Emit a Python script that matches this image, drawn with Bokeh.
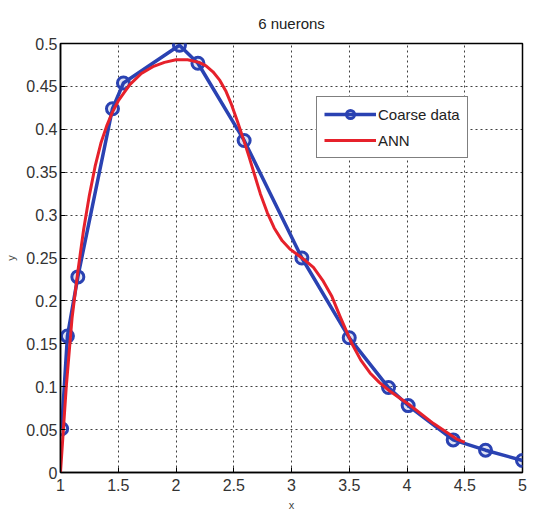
from bokeh.plotting import figure
from bokeh.models import FixedTicker, CustomJSTickFormatter, Legend, LegendItem
from bokeh.embed import file_html
from bokeh.resources import INLINE

# Coarse data (blue, circles)
coarse_x = [1.01, 1.06, 1.15, 1.45, 1.545, 2.03, 2.19, 2.59, 3.09, 3.50, 3.84, 4.01, 4.40, 4.68, 5.0]
coarse_y = [0.051, 0.159, 0.228, 0.424, 0.454, 0.498, 0.477, 0.387, 0.250, 0.157, 0.099, 0.078, 0.038, 0.026, 0.014]

# ANN output (red)
ann_x = [1.0, 1.05, 1.10, 1.15, 1.20, 1.25, 1.30, 1.35, 1.40, 1.45, 1.50, 1.60, 1.70, 1.80, 1.90,
         2.00, 2.10, 2.20, 2.26, 2.32, 2.38, 2.43, 2.48, 2.53, 2.58, 2.63, 2.68, 2.73, 2.79, 2.85,
         2.92, 2.99, 3.05, 3.11, 3.19, 3.27, 3.35, 3.42, 3.52, 3.60, 3.68, 3.76, 3.85, 4.02, 4.23,
         4.43, 4.5]
ann_y = [0.0, 0.100, 0.180, 0.234, 0.283, 0.323, 0.357, 0.384, 0.404, 0.420, 0.433, 0.452, 0.465, 0.473, 0.478,
         0.481, 0.481, 0.478, 0.474, 0.467, 0.457, 0.445, 0.429, 0.410, 0.390, 0.369, 0.347, 0.325, 0.303, 0.285,
         0.270, 0.260, 0.254, 0.248, 0.239, 0.224, 0.205, 0.182, 0.151, 0.131, 0.116, 0.105, 0.095, 0.079, 0.057,
         0.039, 0.035]

x_ticks = [1, 1.5, 2, 2.5, 3, 3.5, 4, 4.5, 5]
y_ticks = [0, 0.05, 0.1, 0.15, 0.2, 0.25, 0.3, 0.35, 0.4, 0.45, 0.5]

title_text = "6 nuerons"
x_label = "x"
y_label = "y"
series_names = ["Coarse data", "ANN"]

BLUE = "#2a42b2"
RED = "#e6212b"
FONT = "Liberation Sans"

p = figure(width=533, height=513, x_range=(1, 5), y_range=(0, 0.5),
           output_backend="svg", toolbar_location=None,
           min_border_left=60, min_border_right=11, min_border_top=0, min_border_bottom=10)

p.title.text = title_text
p.title.align = "center"
p.title.text_font = FONT
p.title.text_font_size = "15px"
p.title.text_font_style = "normal"
p.title.text_color = "#222222"
p.title.offset = 0
p.title.standoff = 24

fmt = CustomJSTickFormatter(code="return tick.toString();")
for ax, ticks, lab in ((p.xaxis[0], x_ticks, x_label), (p.yaxis[0], y_ticks, y_label)):
    ax.ticker = FixedTicker(ticks=ticks)
    ax.formatter = fmt
    ax.axis_label = lab
    ax.axis_label_text_font = FONT
    ax.axis_label_text_font_size = "11px"
    ax.axis_label_text_font_style = "normal"
    ax.major_label_text_font = FONT
    ax.major_label_text_font_size = "16px"
    ax.major_label_text_color = "#333333"
    ax.major_tick_in = 5
    ax.major_tick_out = 0
    ax.minor_tick_in = 0
    ax.minor_tick_out = 0
    ax.axis_line_color = "black"
    ax.axis_line_width = 1.5
    ax.major_tick_line_color = "black"

p.xaxis.major_label_standoff = 6
p.yaxis.major_label_standoff = 3
p.xaxis.axis_label_standoff = 5
p.yaxis.axis_label_standoff = 6

p.outline_line_color = "black"
p.outline_line_width = 1.5
p.outline_line_alpha = 1

for g in (p.xgrid[0], p.ygrid[0]):
    g.grid_line_color = "black"
    g.grid_line_dash = "2 3"
    g.grid_line_width = 1
    g.grid_line_alpha = 0.75

r_blue_line = p.line(coarse_x, coarse_y, line_color=BLUE, line_width=3.5)
r_blue_pts = p.scatter(coarse_x, coarse_y, marker="circle", size=12,
                       line_color=BLUE, line_width=3, fill_color=BLUE, fill_alpha=0.15)
r_red = p.line(ann_x, ann_y, line_color=RED, line_width=3, line_join="round")

legend = Legend(items=[LegendItem(label=series_names[0], renderers=[r_blue_line, r_blue_pts]),
                       LegendItem(label=series_names[1], renderers=[r_red])],
                location=(256, 314))
legend.border_line_color = "black"
legend.border_line_width = 1.5
legend.background_fill_color = "white"
legend.background_fill_alpha = 1
legend.label_text_font = FONT
legend.label_text_font_size = "15px"
legend.label_text_color = "#222222"
legend.glyph_width = 52
legend.glyph_height = 20
legend.label_height = 20
legend.label_standoff = 2
legend.spacing = 6
legend.padding = 7
legend.margin = 0
p.add_layout(legend, "center")

open("out.html", "w").write(file_html(p, INLINE))
